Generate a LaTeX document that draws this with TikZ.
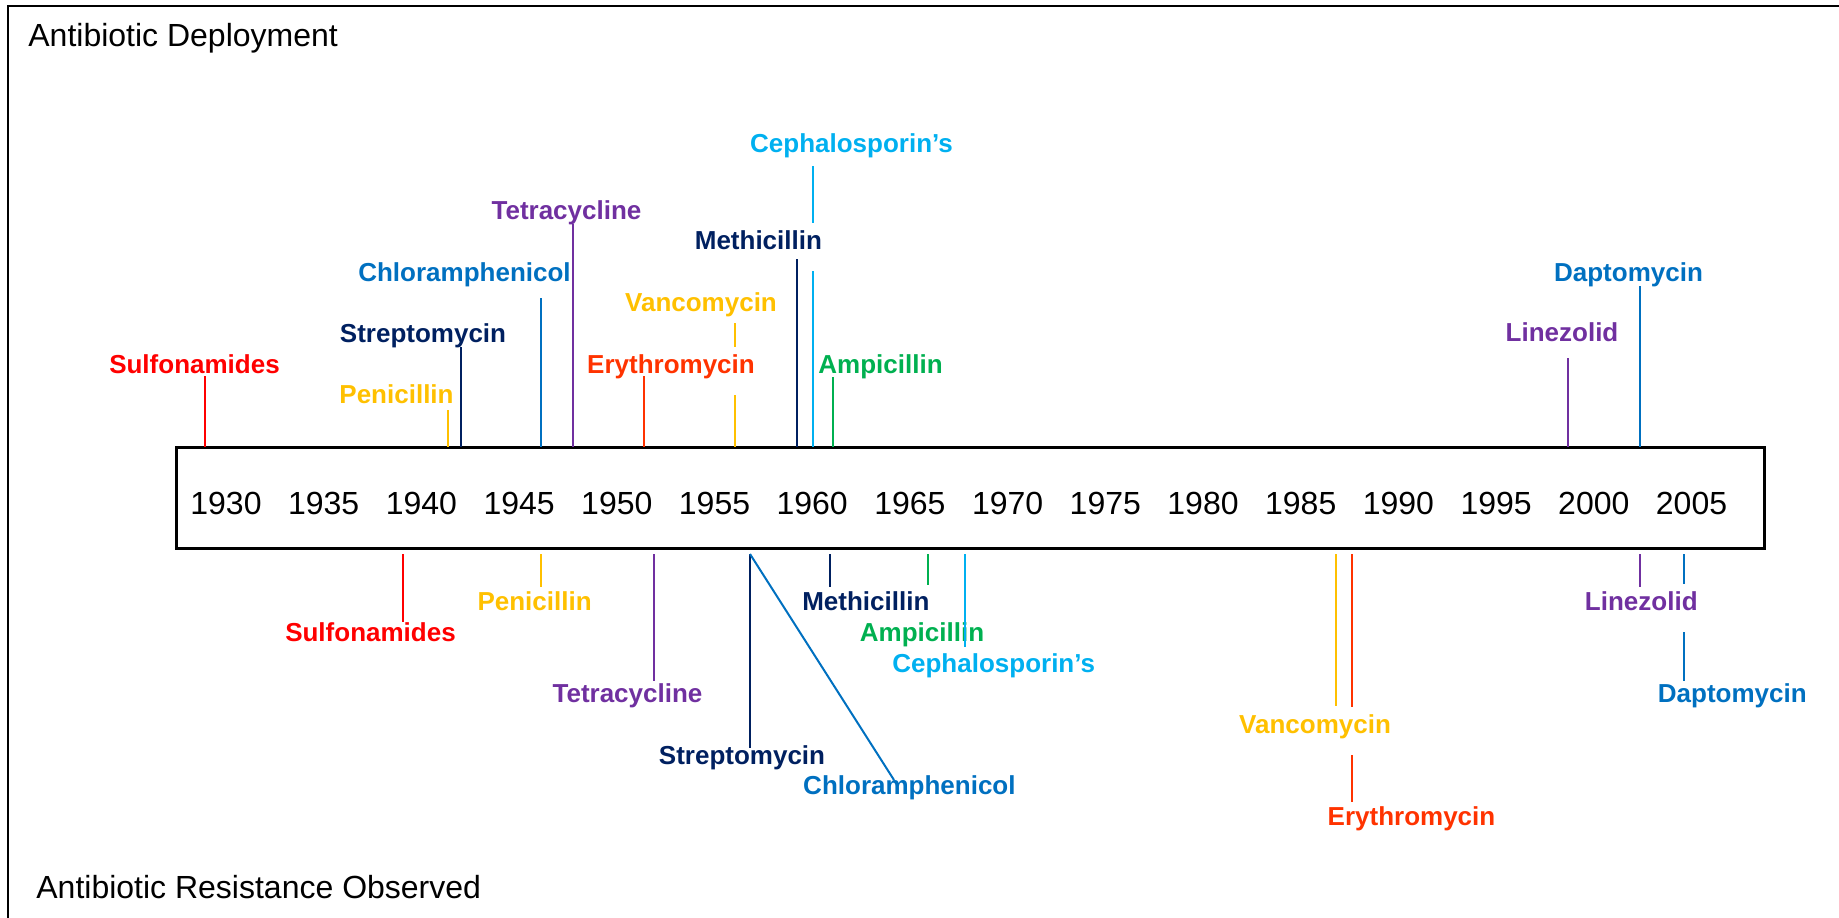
\documentclass[tikz,border=0pt]{standalone}
\usepackage{fontspec}
\setmainfont{Liberation Sans}
\usetikzlibrary{calc}

\definecolor{cRed}{HTML}{FF0000}
\definecolor{cGold}{HTML}{FFC000}
\definecolor{cNavy}{HTML}{002060}
\definecolor{cBlue}{HTML}{0070C0}
\definecolor{cPurple}{HTML}{7030A0}
\definecolor{cOrange}{HTML}{FF3300}
\definecolor{cSky}{HTML}{00B0F0}
\definecolor{cGreen}{HTML}{00B050}

\begin{document}
\begin{tikzpicture}[x=0.5pt,y=-0.5pt,inner sep=0pt,
  lab/.style={font=\bfseries\fontsize{13}{15}\selectfont,anchor=base},
  mask/.style={fill=white,text height=13pt,text depth=11pt},
  big/.style={font=\fontsize{16}{19}\selectfont},
  tick/.style={line width=1pt}]
\useasboundingbox (0,0) rectangle (1839,917);
\def\u{97.7}
\draw[line width=1pt] (8,940) -- (8,6) -- (1860,6);
\node[big,anchor=base west] (top) at (28,46) {Antibiotic Deployment};
\node[big,anchor=base west] (bot) at (36,898) {Antibiotic Resistance Observed};

\node[draw,line width=1.5pt,outer sep=0pt,minimum width=794pt,minimum height=50.5pt] (box) at (970,497.5) {};
\node[big] (t0) at (226+0*\u,503) {1930};
\node[big] (t1) at (226+1*\u,503) {1935};
\node[big] (t2) at (226+2*\u,503) {1940};
\node[big] (t3) at (226+3*\u,503) {1945};
\node[big] (t4) at (226+4*\u,503) {1950};
\node[big] (t5) at (226+5*\u,503) {1955};
\node[big] (t6) at (226+6*\u,503) {1960};
\node[big] (t7) at (226+7*\u,503) {1965};
\node[big] (t8) at (226+8*\u,503) {1970};
\node[big] (t9) at (226+9*\u,503) {1975};
\node[big] (t10) at (226+10*\u,503) {1980};
\node[big] (t11) at (226+11*\u,503) {1985};
\node[big] (t12) at (226+12*\u,503) {1990};
\node[big] (t13) at (226+13*\u,503) {1995};
\node[big] (t14) at (226+14*\u,503) {2000};
\node[big] (t15) at (226+15*\u,503) {2005};

\node[lab,text=cRed] (d1) at (194.5,373) {Sulfonamides};
\coordinate (e1) at (205,376);
\draw[tick,cRed] (e1) -- (e1 |- box.north);
\node[lab,text=cGold] (d2) at (396.5,403) {Penicillin};
\coordinate (e2) at (447.6,410);
\draw[tick,cGold] (e2) -- (e2 |- box.north);
\node[lab,text=cNavy] (d3) at (423,342) {Streptomycin};
\coordinate (e3) at (461,347);
\draw[tick,cNavy] (e3) -- (e3 |- box.north);
\node[lab,text=cBlue] (d4) at (464.5,281) {Chloramphenicol};
\coordinate (e4) at (541,298);
\draw[tick,cBlue] (e4) -- (e4 |- box.north);
\node[lab,text=cPurple] (d5) at (566.5,219) {Tetracycline};
\coordinate (e5) at (573,224);
\draw[tick,cPurple] (e5) -- (e5 |- box.north);
\node[lab,text=cGold] (d7) at (701,311) {Vancomycin};
\coordinate (e7) at (735,323);
\draw[tick,cGold] (e7) -- (e7 |- box.north);
\node[lab,mask,text=cOrange] (d6) at (671,373) {Erythromycin};
\coordinate (e6) at (643.5,376);
\draw[tick,cOrange] (e6) -- (e6 |- box.north);
\node[lab,text=cSky] (d9) at (851.5,152) {Cephalosporin’s};
\coordinate (e9) at (813,166);
\draw[tick,cSky] (e9) -- (e9 |- box.north);
\node[lab,mask,text=cNavy] (d8) at (758.4,249) {Methicillin};
\coordinate (e8) at (797,259);
\draw[tick,cNavy] (e8) -- (e8 |- box.north);
\node[lab,text=cGreen] (d10) at (880.5,373) {Ampicillin};
\coordinate (e10) at (833,377);
\draw[tick,cGreen] (e10) -- (e10 |- box.north);
\node[lab,text=cPurple] (d11) at (1562,341) {Linezolid};
\coordinate (e11) at (1567.6,358);
\draw[tick,cPurple] (e11) -- (e11 |- box.north);
\node[lab,text=cBlue] (d12) at (1628.5,281) {Daptomycin};
\coordinate (e12) at (1640,286);
\draw[tick,cBlue] (e12) -- (e12 |- box.north);

\node[lab,text=cRed] (r1) at (370.5,641) {Sulfonamides};
\coordinate (f1) at (403.3,622);
\draw[tick,cRed] ([yshift=-3pt]box.south -| f1) -- (f1);
\node[lab,text=cGold] (r2) at (534.6,610) {Penicillin};
\coordinate (f2) at (541,587);
\draw[tick,cGold] ([yshift=-3pt]box.south -| f2) -- (f2);
\node[lab,text=cPurple] (r3) at (627.5,702) {Tetracycline};
\coordinate (f3) at (653.6,681);
\draw[tick,cPurple] ([yshift=-3pt]box.south -| f3) -- (f3);
\node[lab,text=cNavy] (r4) at (742,764) {Streptomycin};
\coordinate (f4) at (750,748);
\draw[tick,cNavy] ([yshift=-3pt]box.south -| f4) -- (f4);
\node[lab,text=cBlue] (r5) at (909.4,794) {Chloramphenicol};
\coordinate (f5) at (894,780);
\draw[tick,cBlue] ([yshift=-3pt]box.south -| f4) -- (f5);
\node[lab,text=cNavy] (r6) at (865.8,610) {Methicillin};
\coordinate (f6) at (829.5,587);
\draw[tick,cNavy] ([yshift=-3pt]box.south -| f6) -- (f6);
\node[lab,text=cGreen] (r7) at (922,641) {Ampicillin};
\coordinate (f7) at (927.7,585);
\draw[tick,cGreen] ([yshift=-3pt]box.south -| f7) -- (f7);
\node[lab,text=cSky] (r8) at (993.7,672) {Cephalosporin’s};
\coordinate (f8) at (965.2,647);
\draw[tick,cSky] ([yshift=-3pt]box.south -| f8) -- (f8);
\node[lab,text=cOrange] (r9) at (1411.5,825) {Erythromycin};
\coordinate (f9) at (1352,802);
\draw[tick,cOrange] ([yshift=-3pt]box.south -| f9) -- (f9);
\node[lab,mask,text=cGold] (r10) at (1315,733) {Vancomycin};
\coordinate (f10) at (1336,706);
\draw[tick,cGold] ([yshift=-3pt]box.south -| f10) -- (f10);
\node[lab,text=cBlue] (r11) at (1732.3,702) {Daptomycin};
\coordinate (f11) at (1684,681);
\draw[tick,cBlue] ([yshift=-3pt]box.south -| f11) -- (f11);
\node[lab,mask,text=cPurple] (r12) at (1641.3,610) {Linezolid};
\coordinate (f12) at (1640,587);
\draw[tick,cPurple] ([yshift=-3pt]box.south -| f12) -- (f12);
\end{tikzpicture}
\end{document}
